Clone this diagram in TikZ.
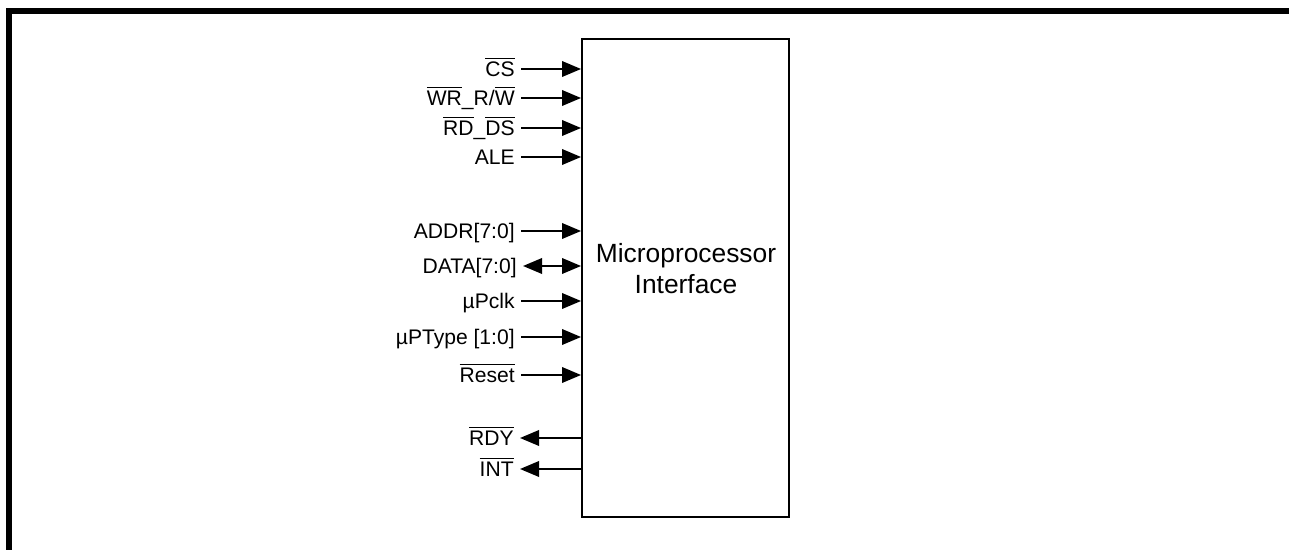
\documentclass[tikz,border=0pt]{standalone}
\usepackage{fontspec}
\setmainfont{Liberation Sans}
\usetikzlibrary{arrows.meta,positioning}
\newcommand{\ovl}[1]{\leavevmode\vbox{\hrule height 0.8pt\kern 1.6pt\hbox{#1}}}

\begin{document}
\begin{tikzpicture}[x=0.02cm,y=-0.02cm,
  >={Triangle[length=0.38cm,width=0.31cm]},
  pinlabel/.style={anchor=east,inner xsep=3.4pt,inner ysep=0pt,
    font=\fontsize{12}{14}\selectfont,text height=8.6pt,text depth=0pt},
  sig/.style={line width=1.1pt},
  block/.style={draw,line width=1.1pt,inner sep=0pt,
    minimum width=4.14cm,minimum height=9.56cm}]
  \useasboundingbox (0,0) rectangle (1289,550);
  % frame
  \draw[line width=3.4pt] (9,550) -- (9,11) -- (1289,11);
  % block
  \node[block] (mpi) at (685.5,278) {};
  \node[font=\fontsize{15}{17.6}\selectfont,align=center] (mpitext) at (686,269)
    {Microprocessor\\Interface};
  % inputs
  \node[pinlabel] (cs)    at (521,69)  {\ovl{CS}};
  \node[pinlabel] (wr)    at (521,98)  {\ovl{WR}\_R/\ovl{W}};
  \node[pinlabel] (rd)    at (521,128) {\ovl{RD}\_\ovl{DS}};
  \node[pinlabel] (ale)   at (521,157) {ALE};
  \node[pinlabel] (addr)  at (521,231) {ADDR[7:0]};
  \node[pinlabel] (data)  at (523,266) {DATA[7:0]};
  \node[pinlabel] (uclk)  at (521,301) {µPclk};
  \node[pinlabel] (utype) at (521,337) {µPType [1:0]};
  \node[pinlabel] (rst)   at (521,375) {\ovl{Reset}};
  % outputs
  \node[pinlabel] (rdy)   at (520,438) {\ovl{RDY}};
  \node[pinlabel] (int)   at (520,469) {\ovl{INT}};
  % connectors
  \foreach \p in {cs,wr,rd,ale,addr,uclk,utype,rst}
    \draw[sig,->] (\p.east) -- (\p.east -| mpi.west);
  \draw[sig,<->] (data.east) -- (data.east -| mpi.west);
  \foreach \p in {rdy,int}
    \draw[sig,->] (\p.east -| mpi.west) -- (\p.east);
\end{tikzpicture}
\end{document}
